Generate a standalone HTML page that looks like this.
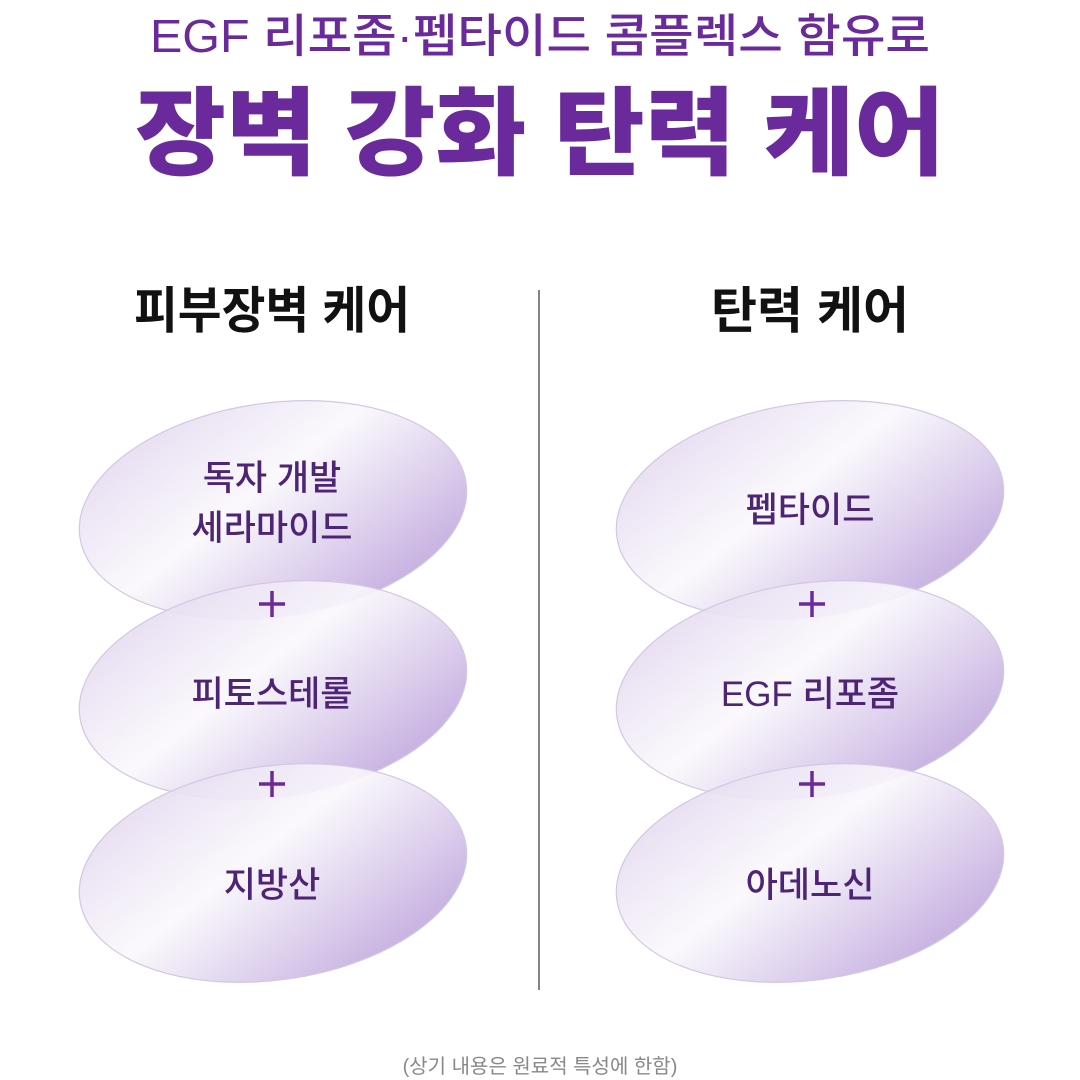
<!DOCTYPE html>
<html><head><meta charset="utf-8"><style>
html,body{margin:0;padding:0;background:#fff;}
svg{display:block;}
</style></head><body>
<svg width="1080" height="1080" viewBox="0 0 1080 1080" xmlns="http://www.w3.org/2000/svg" font-family="'Liberation Sans','Noto Sans CJK KR',sans-serif">
<defs>
<linearGradient id="g" x1="0.1" y1="0.15" x2="0.9" y2="0.9">
<stop offset="0" stop-color="#e6dcf1" stop-opacity="0.92"/>
<stop offset="0.4" stop-color="#faf8fc" stop-opacity="0.9"/>
<stop offset="1" stop-color="#bfa6dd" stop-opacity="0.95"/>
</linearGradient>
<g id="ell">
<ellipse cx="0" cy="0" rx="195" ry="107" transform="rotate(-8)" fill="url(#g)" stroke="#d2c8e0" stroke-width="1.2"/>
</g>
</defs>
<rect width="1080" height="1080" fill="#fff"/>
<text x="540" y="52" text-anchor="middle" font-size="46" font-weight="500" fill="#6b2a9b" textLength="780" lengthAdjust="spacingAndGlyphs">EGF 리포좀·펩타이드 콤플렉스 함유로</text>
<text x="540" y="167" text-anchor="middle" font-size="96" font-weight="900" fill="#6b2a9b" textLength="810" lengthAdjust="spacingAndGlyphs">장벽 강화 탄력 케어</text>
<text x="272" y="328" text-anchor="middle" font-size="50" font-weight="700" fill="#111" textLength="276" lengthAdjust="spacingAndGlyphs">피부장벽 케어</text>
<text x="810" y="328" text-anchor="middle" font-size="50" font-weight="700" fill="#111">탄력 케어</text>
<line x1="539" y1="290" x2="539" y2="990" stroke="#333" stroke-width="1.2"/>
<use href="#ell" x="273" y="510"/>
<use href="#ell" x="273" y="690"/>
<use href="#ell" x="273" y="873"/>
<use href="#ell" x="810" y="510"/>
<use href="#ell" x="810" y="690"/>
<use href="#ell" x="810" y="873"/>
<g font-size="35" font-weight="500" fill="#4e2474" text-anchor="middle">
<text x="272" y="490">독자 개발</text>
<text x="272" y="540">세라마이드</text>
<text x="272" y="706">피토스테롤</text>
<text x="272" y="897">지방산</text>
<text x="810" y="522">펩타이드</text>
<text x="810" y="706">EGF 리포좀</text>
<text x="810" y="897">아데노신</text>
</g>
<g stroke="#6b2a9b" stroke-width="3.5">
<path d="M259 604H285M272 591V617"/>
<path d="M259 784H285M272 771V797"/>
<path d="M799 604H825M812 591V617"/>
<path d="M799 784H825M812 771V797"/>
</g>
<text x="540" y="1073" text-anchor="middle" font-size="20" fill="#888">(상기 내용은 원료적 특성에 한함)</text>
</svg>
</body></html>
